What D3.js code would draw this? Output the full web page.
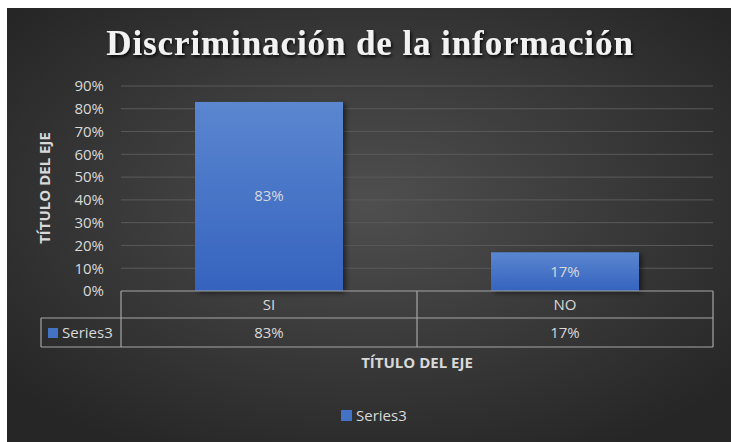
<!DOCTYPE html>
<html>
<head>
<meta charset="utf-8">
<script src="https://cdn.jsdelivr.net/npm/d3@7"></script>
<style>
  body { margin: 0; background: #fff; }
  svg { display: block; }
</style>
</head>
<body>
<script>
(function() {

	var width = 731,
		height = 442;

	// data
	var categories = ["SI", "NO"],
		seriesName = "Series3",
		values = [0.83, 0.17],
		yTicks = [0, 0.1, 0.2, 0.3, 0.4, 0.5, 0.6, 0.7, 0.8, 0.9];

	// colors
	var textColor = "#d9d9d9",
		gridColor = "#5a5a5a",
		tableLine = "#a6a6a6",
		barTop = "#5b86d0",
		barBottom = "#3563be";

	var font = "'Open Sans', Lato, sans-serif";

	var svg = d3.select("body").append("svg")
		.attr("width", width)
		.attr("height", height);

	var defs = svg.append("defs");

	var bg = defs.append("radialGradient")
		.attr("id", "bg")
		.attr("cx", "50%").attr("cy", "45%").attr("r", "65%");
	bg.append("stop").attr("offset", "0%").attr("stop-color", "#4f4f4f");
	bg.append("stop").attr("offset", "100%").attr("stop-color", "#262626");

	var barGrad = defs.append("linearGradient")
		.attr("id", "barGrad")
		.attr("x1", 0).attr("y1", 0).attr("x2", 0).attr("y2", 1);
	barGrad.append("stop").attr("offset", "0%").attr("stop-color", barTop);
	barGrad.append("stop").attr("offset", "100%").attr("stop-color", barBottom);

	var shadow = defs.append("filter").attr("id", "shadow")
		.attr("x", "-10%").attr("y", "-10%").attr("width", "130%").attr("height", "130%");
	shadow.append("feDropShadow")
		.attr("dx", 3).attr("dy", 2).attr("stdDeviation", 2.5)
		.attr("flood-color", "#000").attr("flood-opacity", 0.5);

	var titleShadow = defs.append("filter").attr("id", "titleShadow");
	titleShadow.append("feDropShadow")
		.attr("dx", 1.5).attr("dy", 2).attr("stdDeviation", 1.5)
		.attr("flood-color", "#000").attr("flood-opacity", 0.8);

	// chart background
	svg.append("rect")
		.attr("x", 7).attr("y", 8)
		.attr("width", width - 7).attr("height", height - 8)
		.attr("fill", "url(#bg)");

	// title
	svg.append("text")
		.attr("x", 370).attr("y", 55)
		.attr("text-anchor", "middle")
		.attr("font-family", "'Liberation Serif', 'DejaVu Serif', serif")
		.attr("font-weight", "bold")
		.attr("font-size", 35)
		.attr("letter-spacing", 0.9)
		.attr("fill", "#f2f2f2")
		.attr("filter", "url(#titleShadow)")
		.text("Discriminación de la información");

	// scales
	var x = d3.scaleBand()
		.domain(categories)
		.range([121, 713])
		.paddingInner(0)
		.paddingOuter(0);

	var y = d3.scaleLinear()
		.domain([0, 0.9])
		.range([291, 86]);

	// gridlines
	svg.append("g")
		.selectAll("line")
		.data(yTicks.slice(1))
		.enter()
		.append("line")
		.attr("x1", 121).attr("x2", 713)
		.attr("y1", function(d) { return y(d); })
		.attr("y2", function(d) { return y(d); })
		.attr("stroke", gridColor)
		.attr("stroke-width", 1);

	// y axis
	var yAxis = svg.append("g")
		.attr("transform", "translate(104,0)")
		.call(d3.axisLeft(y).tickValues(yTicks).tickFormat(d3.format(".0%")).tickSize(0).tickPadding(0));
	yAxis.select(".domain").remove();
	yAxis.selectAll("text")
		.attr("fill", textColor)
		.attr("font-family", font)
		.attr("font-size", 15);

	// bars
	var barW = x.bandwidth() * 0.5;
	svg.selectAll(".bar")
		.data(values)
		.enter()
		.append("rect")
		.attr("class", "bar")
		.attr("x", function(d, i) { return x(categories[i]) + x.bandwidth() * 0.25; })
		.attr("y", function(d) { return y(d); })
		.attr("width", barW)
		.attr("height", function(d) { return y(0) - y(d); })
		.attr("fill", "url(#barGrad)")
		.attr("filter", "url(#shadow)");

	// data labels
	svg.selectAll(".label")
		.data(values)
		.enter()
		.append("text")
		.attr("class", "label")
		.attr("x", function(d, i) { return x(categories[i]) + x.bandwidth() / 2; })
		.attr("y", function(d) { return (y(d) + y(0)) / 2 + 5; })
		.attr("text-anchor", "middle")
		.attr("font-family", font)
		.attr("font-size", 15)
		.attr("fill", textColor)
		.text(function(d) { return d3.format(".0%")(d); });

	// data table
	var rowTop = 291, rowMid = 318, rowBot = 347, keyLeft = 41;
	var table = svg.append("g")
		.attr("stroke", tableLine)
		.attr("stroke-width", 1.2)
		.attr("fill", "none");
	table.append("line").attr("x1", 121).attr("x2", 713).attr("y1", rowTop).attr("y2", rowTop);
	table.append("line").attr("x1", keyLeft).attr("x2", 713).attr("y1", rowMid).attr("y2", rowMid);
	table.append("line").attr("x1", keyLeft).attr("x2", 713).attr("y1", rowBot).attr("y2", rowBot);
	table.append("line").attr("x1", keyLeft).attr("x2", keyLeft).attr("y1", rowMid).attr("y2", rowBot);
	table.selectAll(".vline")
		.data(categories.concat(["end"]))
		.enter()
		.append("line")
		.attr("x1", function(d, i) { return 121 + x.bandwidth() * i; })
		.attr("x2", function(d, i) { return 121 + x.bandwidth() * i; })
		.attr("y1", rowTop).attr("y2", rowBot);

	svg.selectAll(".cat")
		.data(categories)
		.enter()
		.append("text")
		.attr("x", function(d) { return x(d) + x.bandwidth() / 2; })
		.attr("y", 310)
		.attr("text-anchor", "middle")
		.attr("font-family", font)
		.attr("font-size", 15)
		.attr("fill", textColor)
		.text(function(d) { return d; });

	svg.selectAll(".cell")
		.data(values)
		.enter()
		.append("text")
		.attr("x", function(d, i) { return x(categories[i]) + x.bandwidth() / 2; })
		.attr("y", 338)
		.attr("text-anchor", "middle")
		.attr("font-family", font)
		.attr("font-size", 15)
		.attr("fill", textColor)
		.text(function(d) { return d3.format(".0%")(d); });

	svg.append("rect")
		.attr("x", 48).attr("y", 328).attr("width", 10).attr("height", 10)
		.attr("fill", "#4472c4");
	svg.append("text")
		.attr("x", 62).attr("y", 338)
		.attr("font-family", font)
		.attr("font-size", 15)
		.attr("fill", textColor)
		.text(seriesName);

	// axis titles
	svg.append("text")
		.attr("x", 417).attr("y", 368)
		.attr("text-anchor", "middle")
		.attr("font-family", font)
		.attr("font-weight", "bold")
		.attr("font-size", 15)
		.attr("fill", textColor)
		.text("TÍTULO DEL EJE");

	svg.append("text")
		.attr("transform", "translate(50,188) rotate(-90)")
		.attr("text-anchor", "middle")
		.attr("font-family", font)
		.attr("font-weight", "bold")
		.attr("font-size", 15)
		.attr("fill", textColor)
		.text("TÍTULO DEL EJE");

	// legend
	svg.append("rect")
		.attr("x", 341).attr("y", 410).attr("width", 11).attr("height", 11)
		.attr("fill", "#4472c4");
	svg.append("text")
		.attr("x", 356).attr("y", 421)
		.attr("font-family", font)
		.attr("font-size", 15)
		.attr("fill", textColor)
		.text(seriesName);

})();
</script>
</body>
</html>
